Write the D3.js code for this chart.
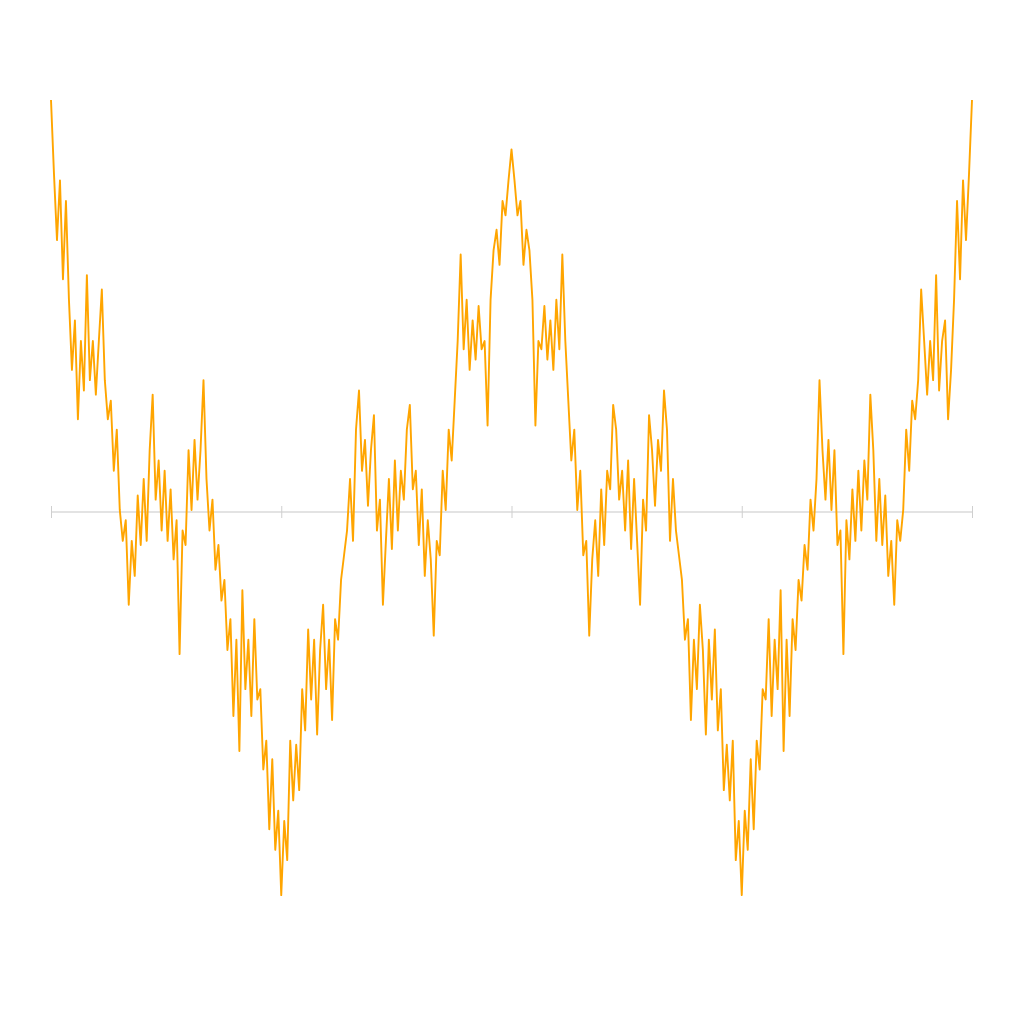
<!DOCTYPE html>
<html><head><meta charset="utf-8">
<script src="https://cdn.jsdelivr.net/npm/d3@7"></script>
<style>body{margin:0;background:#fff}svg{display:block}</style>
</head><body>
<script>
const tickValues = [0, 0.25, 0.5, 0.75, 1];
const values = [
2.00,1.64,1.32,1.61,1.13,1.51,1.03,0.69,0.93,0.45,0.83,0.59,1.15,0.64,0.83,0.57,0.83,1.08,0.64,0.45,
0.54,0.20,0.40,0.01,-0.14,-0.04,-0.45,-0.14,-0.31,0.08,-0.16,0.16,-0.14,0.30,0.57,0.06,0.25,-0.09,0.20,-0.14,
0.11,-0.23,-0.04,-0.69,-0.09,-0.16,0.30,0.01,0.35,0.06,0.30,0.64,0.16,-0.09,0.06,-0.28,-0.16,-0.43,-0.33,-0.67,
-0.52,-0.99,-0.62,-1.16,-0.38,-0.86,-0.62,-0.99,-0.52,-0.91,-0.86,-1.25,-1.11,-1.54,-1.20,-1.64,-1.45,-1.86,-1.50,-1.69,
-1.11,-1.40,-1.13,-1.35,-0.86,-1.06,-0.57,-0.91,-0.62,-1.08,-0.67,-0.45,-0.86,-0.62,-1.01,-0.52,-0.62,-0.33,-0.21,-0.09,
0.16,-0.14,0.40,0.59,0.20,0.35,0.03,0.30,0.47,-0.09,0.06,-0.45,-0.14,0.16,-0.18,0.25,-0.09,0.20,0.06,0.40,
0.52,0.11,0.20,-0.16,0.11,-0.31,-0.04,-0.23,-0.60,-0.14,-0.21,0.20,0.01,0.40,0.25,0.54,0.83,1.25,0.79,1.03,
0.69,0.93,0.74,1.00,0.79,0.83,0.42,1.03,1.27,1.37,1.20,1.51,1.44,1.61,1.76,
1.61,1.44,1.51,1.20,1.37,1.27,1.03,0.42,0.83,0.79,1.00,0.74,0.93,0.69,1.03,0.79,1.25,0.83,0.54,0.25,
0.40,0.01,0.20,-0.21,-0.14,-0.60,-0.23,-0.04,-0.31,0.11,-0.16,0.20,0.11,0.52,0.40,0.06,0.20,-0.09,0.25,-0.18,
0.16,-0.14,-0.45,0.06,-0.09,0.47,0.30,0.03,0.35,0.20,0.59,0.40,-0.14,0.16,-0.09,-0.21,-0.33,-0.62,-0.52,-1.01,
-0.62,-0.86,-0.45,-0.67,-1.08,-0.62,-0.91,-0.57,-1.06,-0.86,-1.35,-1.13,-1.40,-1.11,-1.69,-1.50,-1.86,-1.45,-1.64,-1.20,
-1.54,-1.11,-1.25,-0.86,-0.91,-0.52,-0.99,-0.62,-0.86,-0.38,-1.16,-0.62,-0.99,-0.52,-0.67,-0.33,-0.43,-0.16,-0.28,0.06,
-0.09,0.16,0.64,0.30,0.06,0.35,0.01,0.30,-0.16,-0.09,-0.69,-0.04,-0.23,0.11,-0.14,0.20,-0.09,0.25,0.06,0.57,
0.30,-0.14,0.16,-0.16,0.08,-0.31,-0.14,-0.45,-0.04,-0.14,0.01,0.40,0.20,0.54,0.45,0.64,1.08,0.83,0.57,0.83,
0.64,1.15,0.59,0.83,0.93,0.45,0.69,1.03,1.51,1.13,1.61,1.32,1.64,2.00
];

const W = 1024, H = 1024;
const svg = d3.select("body").append("svg").attr("width", W).attr("height", H);
const x = d3.scaleLinear().domain([0, 1]).range([51, 972]);
const y = d3.scaleLinear().domain([-2, 2]).range([924, 100]);
const n = values.length;

// zero axis line
svg.append("line")
  .attr("x1", x(0)).attr("x2", x(1))
  .attr("y1", y(0)).attr("y2", y(0))
  .attr("stroke", "#e3e3e3").attr("stroke-width", 2);

const axis = d3.axisBottom(x).tickValues(tickValues).tickSize(12).tickFormat("");
const ag = svg.append("g").attr("transform", `translate(0,${y(0) - 6})`).call(axis);
ag.select(".domain").remove();
ag.selectAll(".tick line").attr("stroke", "#cfcfcf").attr("stroke-width", 1);

const line = d3.line().x((d, i) => x(i / (n - 1))).y(d => y(d));
svg.append("path").datum(values)
  .attr("d", line)
  .attr("fill", "none")
  .attr("stroke", "#ffa500")
  .attr("stroke-width", 1.9)
  .attr("stroke-linejoin", "round");
</script>
</body></html>
